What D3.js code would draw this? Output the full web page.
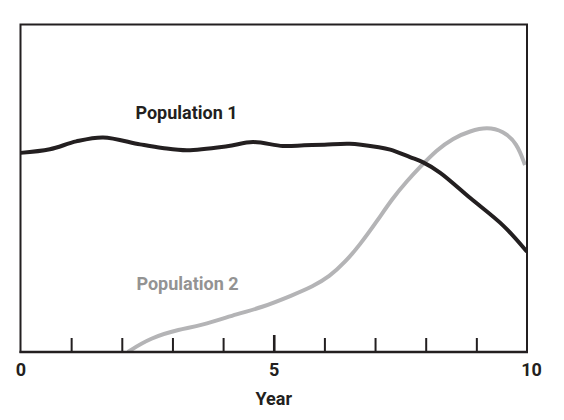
<!DOCTYPE html>
<html>
<head>
<meta charset="utf-8">
<script src="https://cdn.jsdelivr.net/npm/d3@7"></script>
<style>
  html, body { margin: 0; padding: 0; background: #fff; }
  svg text { font-family: "Roboto", "Liberation Sans", sans-serif; font-weight: bold; }
</style>
</head>
<body>
<svg id="chart" width="564" height="420"></svg>
<script>
// Data (years, relative population index 0-100)
const pop1Years  = [0, 0.58, 1.1, 1.63, 2.36, 2.8, 3.29, 4.08, 4.59, 5.18, 5.6, 6.0, 6.5, 7.04, 7.30, 7.69, 7.95, 8.28, 8.88, 9.53, 10];
const pop1Values = [60.8, 61.9, 64.3, 65.5, 63.4, 62.3, 61.6, 62.8, 64.1, 62.9, 63.1, 63.3, 63.6, 62.6, 61.8, 59.5, 57.9, 54.8, 47.0, 38.6, 30.6];

const pop2Years  = [2.12, 2.56, 3.15, 3.54, 4.33, 4.73, 5.38, 5.77, 6.10, 6.40, 6.70, 7.04, 7.35, 7.63, 7.89, 8.22, 8.54, 8.88, 9.21, 9.53, 9.80, 9.96];
const pop2Values = [0, 4.3, 7.0, 7.9, 11.9, 13.4, 17.4, 20.0, 23.0, 27.3, 32.7, 40.0, 47.0, 52.2, 56.5, 61.7, 65.3, 67.5, 68.7, 67.5, 63.8, 57.1];

const seriesNames = ["Population 1", "Population 2"];
const labelTicks = [0, 5, 10];
const minorTicks = [1, 2, 3, 4, 6, 7, 8, 9];
const majorTicks = [5];
const xTitle = "Year";

const svg = d3.select("#chart");
const mLeft = 20.5, mRight = 527, mTop = 24.5, mBottom = 352;

const x = d3.scaleLinear().domain([0, 10]).range([mLeft, mRight]);
const y = d3.scaleLinear().domain([0, 100]).range([mBottom, mTop]);

const ink = "#231f20";
const grayLine = "#b4b4b6";
const grayText = "#939393";

const pop1 = pop1Years.map((d, i) => [d, pop1Values[i]]);
const pop2 = pop2Years.map((d, i) => [d, pop2Values[i]]);

const line1 = d3.line()
  .x(d => x(d[0]))
  .y(d => y(d[1]))
  .curve(d3.curveCatmullRom.alpha(0.5));

const line2 = d3.line()
  .x(d => x(d[0]))
  .y(d => y(d[1]))
  .curve(d3.curveBasis);

svg.append("clipPath").attr("id", "plotclip")
  .append("rect").attr("x", mLeft).attr("y", mTop)
  .attr("width", mRight - mLeft).attr("height", mBottom - mTop);

const plot = svg.append("g").attr("clip-path", "url(#plotclip)");

plot.append("path").datum(pop2)
  .attr("d", line2)
  .attr("fill", "none")
  .attr("stroke", grayLine)
  .attr("stroke-width", 4)
  .attr("stroke-linecap", "butt");

plot.append("path").datum(pop1)
  .attr("d", line1)
  .attr("fill", "none")
  .attr("stroke", ink)
  .attr("stroke-width", 4)
  .attr("stroke-linecap", "butt");

// Frame
svg.append("rect")
  .attr("x", mLeft).attr("y", mTop)
  .attr("width", mRight - mLeft).attr("height", mBottom - mTop)
  .attr("fill", "none")
  .attr("stroke", ink)
  .attr("stroke-width", 2);

// Minor ticks (pointing up inside the frame)
const minorAxis = d3.axisBottom(x).tickValues(minorTicks).tickSizeInner(-14).tickSizeOuter(0).tickFormat("");
const gMinor = svg.append("g").attr("transform", `translate(0,${mBottom})`).call(minorAxis);
gMinor.select(".domain").remove();
gMinor.selectAll("line").attr("stroke", ink).attr("stroke-width", 2);

const majorAxis = d3.axisBottom(x).tickValues(majorTicks).tickSizeInner(-17).tickSizeOuter(0).tickFormat("");
const gMajor = svg.append("g").attr("transform", `translate(0,${mBottom})`).call(majorAxis);
gMajor.select(".domain").remove();
gMajor.selectAll("line").attr("stroke", ink).attr("stroke-width", 2.6);

// Tick labels
const labelAxis = d3.axisBottom(x).tickValues(labelTicks).tickSize(0).tickPadding(11).tickFormat(d3.format("d"));
const gLab = svg.append("g").attr("transform", `translate(0,${mBottom})`).call(labelAxis);
gLab.select(".domain").remove();
gLab.selectAll("text")
  .attr("fill", ink)
  .style("font-size", "18px")
  .attr("dx", d => d === 10 ? 4 : 0);

// Bottom axis line drawn on top
svg.append("line")
  .attr("x1", mLeft - 1).attr("x2", mRight + 1)
  .attr("y1", mBottom).attr("y2", mBottom)
  .attr("stroke", ink).attr("stroke-width", 2.4);

// Axis title
svg.append("text")
  .attr("x", x(5)).attr("y", 405)
  .attr("text-anchor", "middle")
  .attr("fill", ink)
  .style("font-size", "18px")
  .text(xTitle);

// Series labels
svg.append("text")
  .attr("x", 186.5).attr("y", 119)
  .attr("text-anchor", "middle")
  .attr("fill", ink)
  .style("font-size", "18px")
  .text(seriesNames[0]);

svg.append("text")
  .attr("x", 187.5).attr("y", 290)
  .attr("text-anchor", "middle")
  .attr("fill", grayText)
  .style("font-size", "18px")
  .text(seriesNames[1]);
</script>
</body>
</html>
